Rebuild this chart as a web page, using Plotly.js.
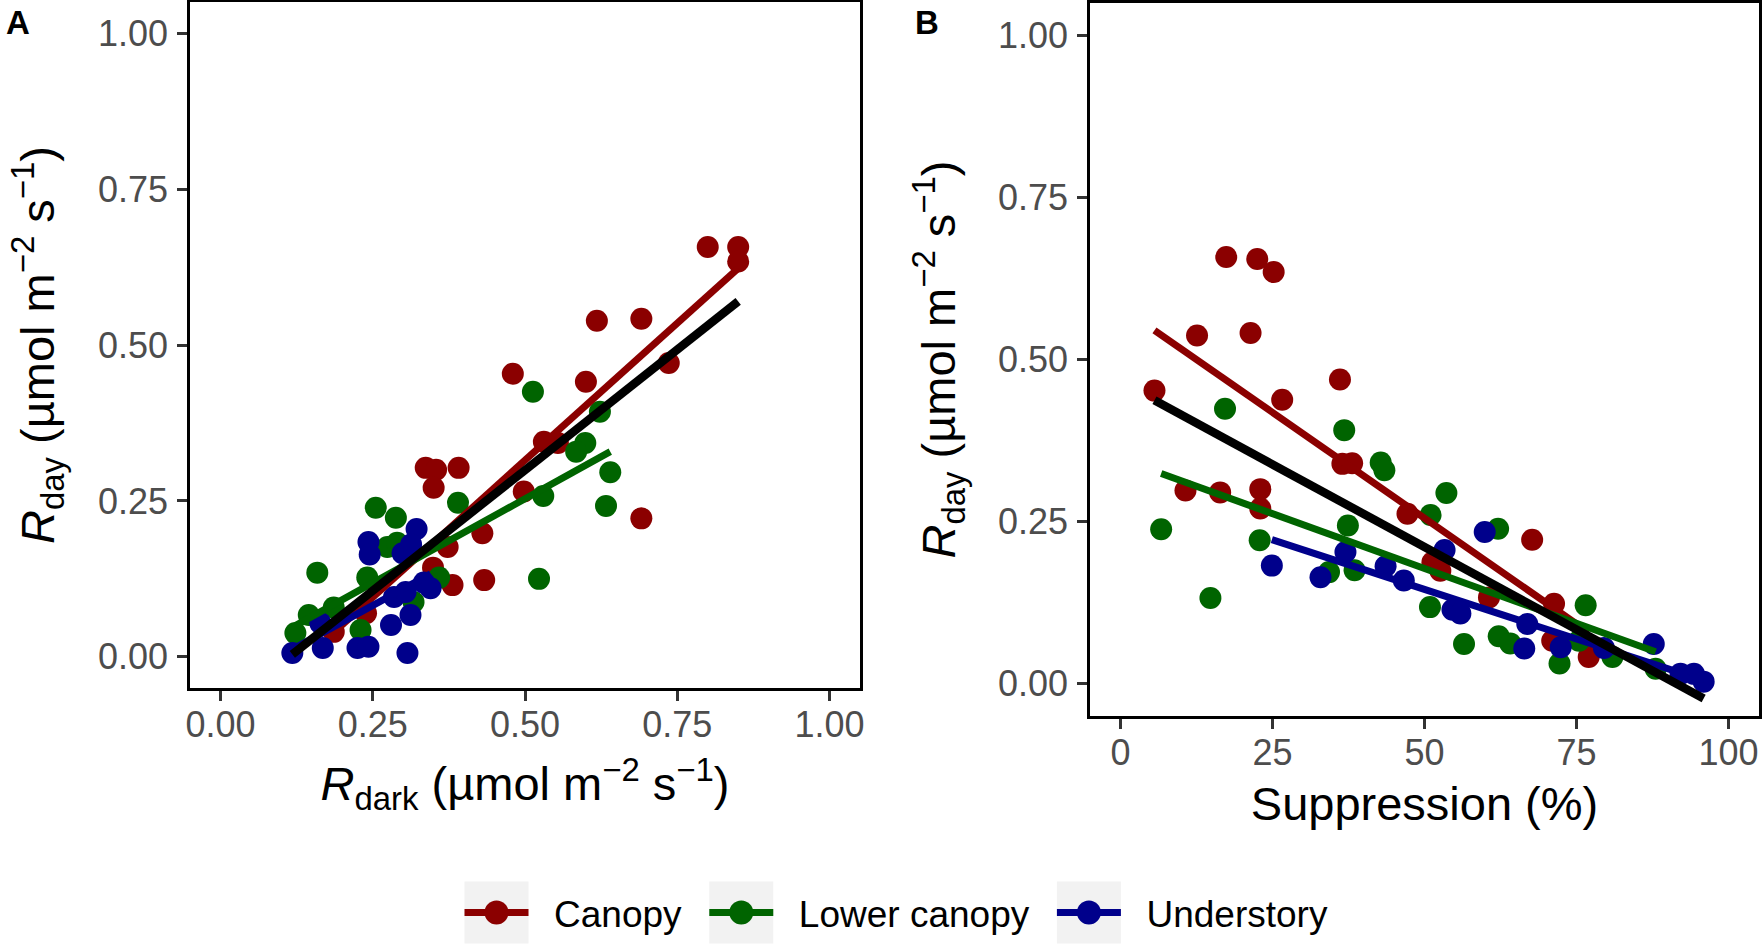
<!DOCTYPE html>
<html>
<head>
<meta charset="utf-8">
<script src="https://cdn.plot.ly/plotly-3.0.1.min.js"></script>
<style>
  html, body { margin:0; padding:0; background:#fff; }
  #plot { width:1764px; height:948px; }
</style>
</head>
<body>
<div id="plot"></div>
<script>
// ---------------- DATA ----------------
const groups = ['Canopy', 'Lower canopy', 'Understory'];

// Panel A: R_dark (x) vs R_day (y)
const canopyA_rdark = [0.800,0.850,0.850,0.618,0.691,0.736,0.480,0.600,0.531,0.554,0.498,0.691,0.430,0.433,0.337,0.354,0.391,0.350,0.373,0.349,0.381,0.186,0.239];
const canopyA_rday  = [0.657,0.657,0.634,0.539,0.542,0.471,0.454,0.441,0.345,0.343,0.265,0.222,0.198,0.123,0.303,0.300,0.303,0.271,0.176,0.143,0.115,0.040,0.070];

const lowerA_rdark = [0.513,0.623,0.599,0.584,0.640,0.530,0.633,0.523,0.255,0.288,0.390,0.274,0.290,0.359,0.159,0.241,0.145,0.186,0.123,0.230,0.317];
const lowerA_rday  = [0.425,0.393,0.343,0.329,0.296,0.258,0.242,0.125,0.239,0.223,0.247,0.176,0.183,0.127,0.135,0.127,0.067,0.079,0.038,0.043,0.088];

const underA_rdark = [0.243,0.245,0.322,0.299,0.313,0.345,0.334,0.285,0.304,0.312,0.280,0.164,0.118,0.168,0.225,0.243,0.307];
const underA_rday  = [0.184,0.164,0.205,0.166,0.180,0.110,0.119,0.096,0.104,0.067,0.051,0.054,0.006,0.014,0.014,0.016,0.006];

// Panel B: Suppression (%) (x) vs R_day (y)
const canopyB_supp = [17.4,22.5,25.2,12.6,21.4,5.6,36.1,26.6,36.5,38.1,10.7,16.4,23.0,23.0,47.2,67.7,51.3,52.6,60.6,71.3,71.0,77.0];
const canopyB_rday = [0.658,0.655,0.635,0.537,0.541,0.452,0.469,0.438,0.339,0.340,0.298,0.295,0.300,0.270,0.262,0.222,0.187,0.174,0.133,0.123,0.066,0.041];

const lowerB_supp = [17.2,36.8,42.8,43.4,53.6,51.0,62.1,76.5,6.7,22.9,37.4,34.3,38.5,14.8,50.9,56.5,62.2,64.1,72.2,80.9,75.4,88.0];
const lowerB_rday = [0.424,0.391,0.341,0.329,0.294,0.260,0.239,0.121,0.238,0.221,0.244,0.172,0.175,0.132,0.118,0.061,0.073,0.062,0.031,0.041,0.066,0.023];

const underB_supp = [24.9,32.9,37.0,43.6,46.6,53.3,59.9,54.6,55.9,66.9,66.4,72.4,79.5,87.7,92.1,94.3,95.9];
const underB_rday = [0.182,0.164,0.203,0.181,0.159,0.206,0.234,0.114,0.108,0.092,0.054,0.056,0.055,0.061,0.015,0.015,0.003];

// Fitted regression lines (end points)
const fitA_canopy_x = [0.186, 0.850], fitA_canopy_y = [0.039, 0.623];
const fitA_lower_x  = [0.123, 0.640], fitA_lower_y  = [0.050, 0.329];
const fitA_under_x  = [0.118, 0.345], fitA_under_y  = [0.012, 0.133];
const fitA_all_x    = [0.118, 0.850], fitA_all_y    = [0.004, 0.570];

const fitB_canopy_x = [5.6, 77.0],  fitB_canopy_y = [0.545, 0.079];
const fitB_lower_x  = [6.7, 88.0],  fitB_lower_y  = [0.324, 0.049];
const fitB_under_x  = [24.9, 95.9], fitB_under_y  = [0.222, 0.005];
const fitB_all_x    = [5.6, 95.9],  fitB_all_y    = [0.437, -0.023];

// Tick values / labels
const tickA = [0, 0.25, 0.5, 0.75, 1.0];
const tickA_labels = ['0.00', '0.25', '0.50', '0.75', '1.00'];
const tickBx = [0, 25, 50, 75, 100];
const tickBx_labels = ['0', '25', '50', '75', '100'];

// ---------------- STYLE ----------------
const W = 1764, H = 948;
const colors = ['#8B0000', '#006400', '#00008B'];
const FONT = 'Liberation Sans, Arial, Helvetica, sans-serif';
const MS = 22;
const NB = '\u00A0';

function pts(x, y, c, xa, ya) {
  return {type:'scatter', mode:'markers', x:x, y:y, xaxis:xa, yaxis:ya,
          marker:{color:c, size:MS, line:{width:0}}, showlegend:false, hoverinfo:'skip'};
}
function fit(x, y, c, w, xa, ya) {
  return {type:'scatter', mode:'lines', x:x, y:y, xaxis:xa, yaxis:ya,
          line:{color:c, width:w}, showlegend:false, hoverinfo:'skip'};
}

const LW = 7, LWB = 8.5;
const traces = [
  pts(canopyA_rdark, canopyA_rday, colors[0], 'x', 'y'),
  pts(lowerA_rdark, lowerA_rday, colors[1], 'x', 'y'),
  pts(underA_rdark, underA_rday, colors[2], 'x', 'y'),
  fit(fitA_canopy_x, fitA_canopy_y, colors[0], LW, 'x', 'y'),
  fit(fitA_lower_x, fitA_lower_y, colors[1], LW, 'x', 'y'),
  fit(fitA_under_x, fitA_under_y, colors[2], LW, 'x', 'y'),
  fit(fitA_all_x, fitA_all_y, '#000000', LWB, 'x', 'y'),

  pts(canopyB_supp, canopyB_rday, colors[0], 'x2', 'y2'),
  pts(lowerB_supp, lowerB_rday, colors[1], 'x2', 'y2'),
  pts(underB_supp, underB_rday, colors[2], 'x2', 'y2'),
  fit(fitB_canopy_x, fitB_canopy_y, colors[0], LW, 'x2', 'y2'),
  fit(fitB_lower_x, fitB_lower_y, colors[1], LW, 'x2', 'y2'),
  fit(fitB_under_x, fitB_under_y, colors[2], LW, 'x2', 'y2'),
  fit(fitB_all_x, fitB_all_y, '#000000', LWB, 'x2', 'y2')
];
// legend entries
groups.forEach((g, i) => {
  traces.push({type:'scatter', mode:'lines+markers', x:[null], y:[null],
    name: NB + NB + g + NB + '\u2009',
    xaxis:'x', yaxis:'y', line:{color:colors[i], width:LW}, marker:{color:colors[i], size:MS},
    hoverinfo:'skip'});
});

const axBase = {
  showgrid:false, zeroline:false, showline:true, mirror:true,
  linecolor:'#000000', linewidth:2.7,
  ticks:'outside', ticklen:10, tickwidth:3, tickcolor:'#333333',
  tickfont:{family:FONT, size:36, color:'#4D4D4D'},
  fixedrange:true
};
const titleFont = {family:FONT, size:47, color:'#000000'};

const layout = {
  width:W, height:H,
  margin:{l:0, r:0, t:0, b:0},
  paper_bgcolor:'#ffffff', plot_bgcolor:'#ffffff',
  font:{family:FONT},
  hovermode:false,
  xaxis: Object.assign({}, axBase, {
    domain:[190/W, 860/W], range:[-0.05, 1.05], anchor:'y',
    tickmode:'array', tickvals:tickA, ticktext:tickA_labels, ticklabelstandoff:-7,
    title:{text:'<i>R</i><sub>dark</sub> (µmol m<sup>−2</sup> s<sup>−1</sup>)', font:titleFont, standoff:24}
  }),
  yaxis: Object.assign({}, axBase, {
    domain:[1-688/H, 1-2/H], range:[-0.05, 1.05], anchor:'x',
    tickmode:'array', tickvals:tickA, ticktext:tickA_labels, ticklabelstandoff:2,
    title:{text:'<i>R</i><sub>day</sub> (µmol m<sup>−2</sup> s<sup>−1</sup>)', font:titleFont, standoff:29}
  }),
  xaxis2: Object.assign({}, axBase, {
    domain:[1090/W, 1759/W], range:[-5, 105], anchor:'y2',
    tickmode:'array', tickvals:tickBx, ticktext:tickBx_labels, ticklabelstandoff:-7,
    title:{text:'Suppression (%)', font:titleFont, standoff:16}
  }),
  yaxis2: Object.assign({}, axBase, {
    domain:[1-716/H, 1-3/H], range:[-0.05, 1.05], anchor:'x2',
    tickmode:'array', tickvals:tickA, ticktext:tickA_labels, ticklabelstandoff:2,
    title:{text:'<i>R</i><sub>day</sub> (µmol m<sup>−2</sup> s<sup>−1</sup>)', font:titleFont, standoff:28}
  }),
  showlegend:true,
  legend:{
    orientation:'h', x:905/W, xanchor:'center', y:1-913/H, yanchor:'middle',
    font:{family:FONT, size:37, color:'#000000'}, bgcolor:'rgba(0,0,0,0)',
    itemwidth:64, traceorder:'normal'
  },
  annotations:[
    {text:'<b>A</b>', xref:'paper', yref:'paper', x:4/W, y:1-2/H, xanchor:'left', yanchor:'top',
     showarrow:false, font:{family:FONT, size:33, color:'#000'}},
    {text:'<b>B</b>', xref:'paper', yref:'paper', x:913/W, y:1-2/H, xanchor:'left', yanchor:'top',
     showarrow:false, font:{family:FONT, size:33, color:'#000'}}
  ]
};

function enlargeLegendPoints() {
  gd.querySelectorAll('.legend .legendpoints path.scatterpts').forEach(p => {
    const t = p.getAttribute('transform') || '';
    if (t.indexOf('scale') < 0) p.setAttribute('transform', t + ' scale(1.5)');
  });
}

const gd = document.getElementById('plot');
Plotly.newPlot(gd, traces, layout, {displayModeBar:false, staticPlot:true}).then(() => {
  const base = gd.getBoundingClientRect();
  const shapes = [];
  gd.querySelectorAll('.legend .traces').forEach(it => {
    const sym = it.querySelector('.legendsymbols') || it.querySelector('.legendpoints');
    if (!sym) return;
    const r = sym.getBoundingClientRect();
    const cx = (r.left + r.right) / 2 - base.left;
    const cy = (r.top + r.bottom) / 2 - base.top;
    shapes.push({type:'rect', xref:'paper', yref:'paper',
      x0:(cx-32)/W, x1:(cx+32)/W, y0:1-(cy+31)/H, y1:1-(cy-31)/H,
      fillcolor:'#F2F2F2', line:{width:0}, layer:'above'});
  });
  return Plotly.relayout(gd, {shapes:shapes});
}).then(enlargeLegendPoints);
</script>
</body>
</html>
